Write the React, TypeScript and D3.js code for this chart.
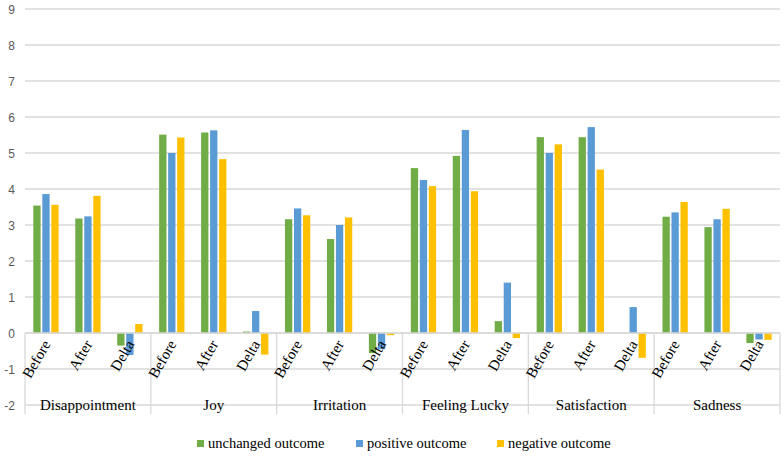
import React from "react";
import * as d3 from "d3";

const groups = ["Disappointment", "Joy", "Irritation", "Feeling Lucky", "Satisfaction", "Sadness"];
const phases = ["Before", "After", "Delta"];
const seriesNames = ["unchanged outcome", "positive outcome", "negative outcome"];
const seriesColors = ["#70ad47", "#5b9bd5", "#ffc000"];
const yTicks = [-2, -1, 0, 1, 2, 3, 4, 5, 6, 7, 8, 9];

// values per group: [Before, After, Delta]
const unchanged = [
  [3.54, 3.18, -0.35],
  [5.51, 5.57, 0.04],
  [3.16, 2.61, -0.56],
  [4.58, 4.92, 0.33],
  [5.44, 5.44, 0.0],
  [3.23, 2.94, -0.28],
];
const positive = [
  [3.86, 3.24, -0.61],
  [5.0, 5.63, 0.61],
  [3.46, 3.0, -0.45],
  [4.25, 5.64, 1.4],
  [5.0, 5.72, 0.72],
  [3.35, 3.16, -0.18],
];
const negative = [
  [3.56, 3.81, 0.25],
  [5.43, 4.83, -0.6],
  [3.27, 3.21, -0.06],
  [4.08, 3.94, -0.14],
  [5.24, 4.54, -0.69],
  [3.64, 3.45, -0.19],
];

const seriesData = [unchanged, positive, negative];

const W = 784;
const H = 459;
const left = 25;
const right = 780;
const serif = "'Liberation Serif', 'Times New Roman', serif";
const sans = "'Liberation Sans', Arial, sans-serif";

export default function App() {
  const cats = groups.flatMap((g) => phases.map((p) => `${g}|${p}`));
  const x = d3.scaleBand<string>().domain(cats).range([left, right]).padding(0);
  const xg = d3.scaleBand<string>().domain(groups).range([left, right]).padding(0);
  const xs = d3.scaleBand<string>().domain(seriesNames).range([-12.65, 12.65]).paddingInner(0.19);
  const y = d3.scaleLinear().domain([-2, 9]).range([405, 9]);
  const y0 = y(0);
  const grid = "#d9d9d9";

  const legendItems = [
    { x: 197, tx: 208 },
    { x: 356, tx: 367 },
    { x: 497, tx: 508 },
  ];

  return (
    <svg width={W} height={H} style={{ position: "absolute", left: 0, top: 0, background: "#fff" }}>
      <rect x={0} y={0} width={W} height={H} fill="#fff" />
      {yTicks.map((t) => (
        <g key={t}>
          <line x1={left} x2={right} y1={y(t)} y2={y(t)} stroke={grid} strokeWidth={1.3} />
          <text x={15} y={y(t) + 4.5} textAnchor="end" fontFamily={sans} fontSize={12} fill="#595959">
            {t}
          </text>
        </g>
      ))}
      {/* category axis separators */}
      <line x1={left} x2={left} y1={y0} y2={414} stroke={grid} strokeWidth={1.3} />
      {groups.map((g) => (
        <line key={g} x1={xg(g)! + xg.bandwidth()} x2={xg(g)! + xg.bandwidth()} y1={y0} y2={414} stroke={grid} strokeWidth={1.3} />
      ))}
      {/* bars */}
      {seriesData.map((sd, si) =>
        sd.map((vals, gi) =>
          vals.map((v, pi) => {
            const c = `${groups[gi]}|${phases[pi]}`;
            const cx = x(c)! + x.bandwidth() / 2;
            const bx = cx + xs(seriesNames[si])!;
            const yt = Math.min(y(v), y0);
            const h = Math.abs(y(v) - y0);
            return <rect key={`${si}-${gi}-${pi}`} x={bx} y={yt} width={xs.bandwidth()} height={h} fill={seriesColors[si]} />;
          })
        )
      )}
      {/* zero axis line */}
      <line x1={left} x2={right} y1={y0} y2={y0} stroke={grid} strokeWidth={1.3} />
      {/* phase labels */}
      {cats.map((c) => {
        const cx = x(c)! + x.bandwidth() / 2;
        const p = c.split("|")[1];
        return (
          <text
            key={c}
            transform={`translate(${cx + 5},${y0 + 11}) rotate(-60)`}
            textAnchor="end"
            fontFamily={serif}
            fontSize={15}
            fill="#000"
          >
            {p}
          </text>
        );
      })}
      {/* group labels */}
      {groups.map((g) => (
        <text key={g} x={xg(g)! + xg.bandwidth() / 2} y={410} textAnchor="middle" fontFamily={serif} fontSize={15} fill="#000">
          {g}
        </text>
      ))}
      {/* legend */}
      {seriesNames.map((s, i) => (
        <g key={s}>
          <rect x={legendItems[i].x} y={440} width={7} height={7} fill={seriesColors[i]} />
          <text x={legendItems[i].tx} y={448} fontFamily={serif} fontSize={14.5} fill="#000">
            {s}
          </text>
        </g>
      ))}
    </svg>
  );
}
